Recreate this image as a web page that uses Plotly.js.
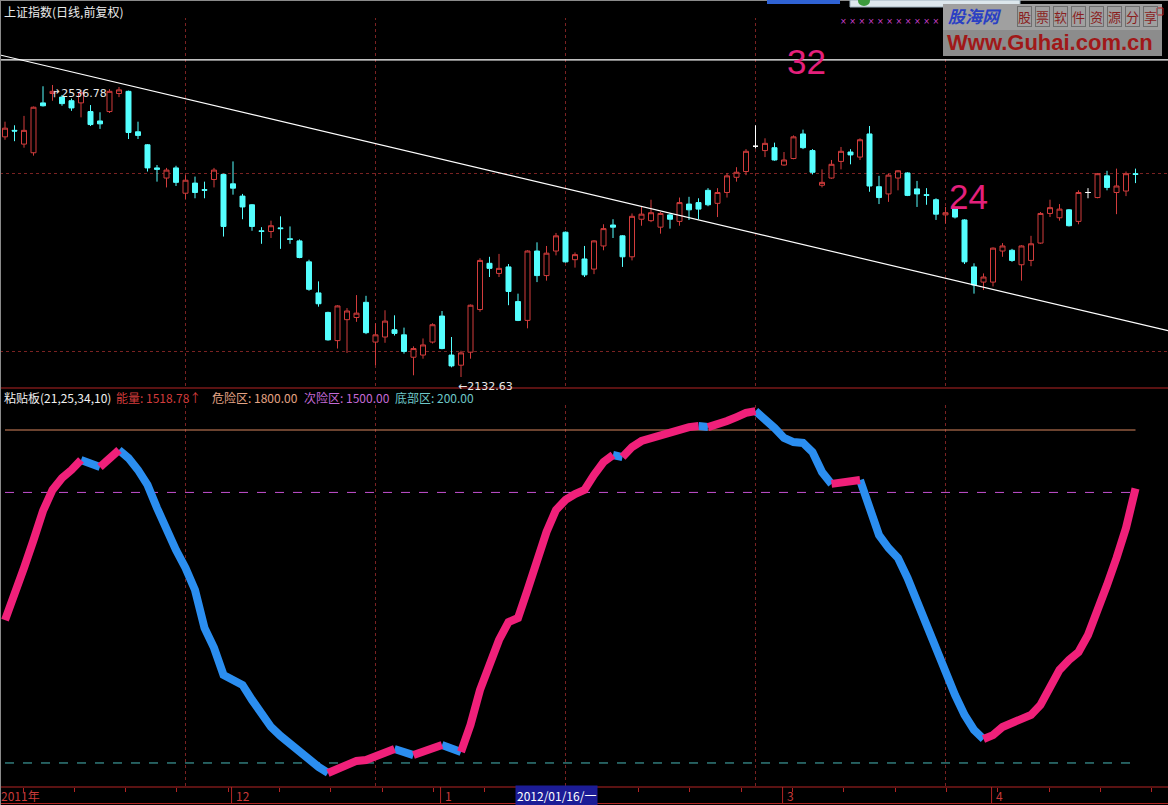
<!DOCTYPE html>
<html><head><meta charset="utf-8">
<script src="https://cdn.plot.ly/plotly-3.0.1.min.js"></script>
<style>html,body{margin:0;padding:0;background:#000;overflow:hidden}#chart{width:1168px;height:805px}</style>
</head><body><div id="chart"></div>
<script>
// ---------- data (Shanghai Composite, daily, forward adjusted) ----------
const openP  = [2465,2474,2455,2443,2512,2525,2520,2515,2512,2500,2487,2500,2525,2528,2472,2454,2422,2408,2422,2387,
                2401,2392,2406,2413,2400,2383,2371,2335,2334,2339,2324,2321,2292,2249,2222,2183,2212,2215,2236,2181,
                2188,2198,2191,2160,2163,2181,2217,2163,2149,2167,2226,2290,2276,2285,2237,2211,2307,2273,2307,2333,
                2295,2296,2282,2314,2343,2328,2299,2351,2349,2340,2357,2348,2372,2374,2391,2373,2388,2409,2417,2452,
                2446,2450,2426,2435,2469,2446,2398,2408,2431,2444,2437,2469,2396,2386,2408,2415,2393,2385,2378,2357,
                2367,2350,2285,2264,2264,2307,2308,2288,2294,2318,2359,2353,2364,2348,2388,2381,2411,2388,2390,2414];
const highP  = [2486,2481,2494,2507,2535,2536.78,2523,2518,2530,2509,2499,2531,2534,2529,2486,2455,2426,2422,2425,2412,
                2410,2403,2422,2414,2431,2386,2372,2340,2349,2355,2341,2323,2295,2265,2223,2232,2228,2246,2245,2207,
                2225,2218,2201,2175,2186,2207,2224,2188,2169,2233,2297,2299,2303,2289,2248,2308,2319,2314,2332,2334,
                2305,2314,2322,2344,2351,2329,2359,2369,2378,2361,2359,2381,2382,2380,2394,2394,2415,2423,2448,2481,
                2463,2457,2444,2467,2475,2448,2420,2433,2451,2448,2463,2480,2411,2414,2419,2416,2404,2394,2380,2368,
                2368,2351,2290,2276,2312,2318,2310,2315,2328,2361,2378,2372,2365,2391,2394,2415,2418,2421,2417,2421];
const lowP   = [2461,2459,2450,2439,2507,2515,2508,2501,2492,2480,2476,2498,2520,2462,2462,2417,2403,2395,2397,2379,
                2380,2380,2395,2327,2385,2351,2335,2317,2325,2310,2317,2297,2252,2230,2183,2172,2166,2209,2192,2149,
                2180,2190,2165,2135,2158,2179,2171,2146,2132.63,2158,2223,2271,2271,2232,2210,2200,2264,2266,2301,2291,
                2284,2271,2275,2308,2325,2285,2294,2342,2347,2331,2338,2342,2350,2351,2369,2354,2381,2403,2412,2449,
                2437,2432,2425,2434,2448,2413,2395,2407,2420,2427,2433,2389,2372,2375,2391,2383,2368,2371,2350,2345,
                2352,2289,2248,2253,2258,2299,2292,2266,2286,2317,2354,2349,2341,2344,2380,2380,2391,2358,2383,2401];
const closeP = [2477,2473,2474,2506,2508,2528,2511,2505,2526,2482,2483,2528,2530,2471,2467,2422,2420,2419,2402,2405,
                2388,2391,2419,2341,2394,2368,2341,2334,2342,2338,2323,2298,2254,2234,2184,2231,2224,2221,2194,2191,
                2210,2193,2168,2172,2177,2205,2172,2148,2166,2232,2294,2283,2283,2251,2211,2307,2273,2304,2328,2292,
                2302,2274,2321,2338,2340,2299,2355,2358,2360,2359,2351,2374,2364,2365,2371,2388,2411,2416,2445,2452,
                2456,2433,2433,2465,2450,2416,2402,2427,2445,2440,2461,2397,2381,2412,2418,2384,2386,2384,2358,2360,
                2354,2292,2260,2271,2311,2314,2294,2314,2317,2359,2367,2365,2342,2388,2388,2414,2395,2397,2414,2413];
// 粘贴板(21,25,34,10) energy line
const energy = [887,1002,1137,1271,1411,1512,1569,1608,1656,1637,1622,1661,1704,1665,1608,1536,1425,1320,1223,1137,
                1031,849,753,623,599,575,503,431,373,330,291,253,214,181,152,171,195,210,214,229,
                243,267,253,238,253,277,286,267,253,383,551,685,791,877,897,1031,1175,1310,1416,1464,
                1492,1512,1584,1646,1680,1670,1718,1747,1762,1776,1790,1805,1814,1819,1814,1824,1843,1862,1882,1891,
                1853,1810,1762,1742,1738,1694,1598,1541,1545,1550,1560,1440,1295,1233,1185,1089,974,863,743,637,
                527,431,359,315,334,373,392,407,431,479,560,647,695,733,815,925,1055,1185,1329,1518.78];
const dangerLevel = 1800, riskLevel = 1500, bottomLevel = 200;
const whiteCross = [79, 114];                 // doji bars drawn in white
const monthTickIdx  = [0, 24, 46, 82, 104];
const monthTickText = ['2011年', '12', '1', '3', '4'];
const cursorIdx = 54, cursorLabel = '2012/01/16/一';
const gridIdx = [19, 39, 59, 79, 99];
const priceGrid = [2168.6, 2413.6];
const trendX = [-0.53, 122.42], trendY = [2578.3, 2196.7];
const hLineX = [-0.53, 122.42], hLineY = [2571.4, 2571.4];
const waveLabels = [{text:'32', xpx:806, ypx:62}, {text:'24', xpx:968, ypx:196}];

// ---------- build ----------
const W = 1168, H = 805;
const PX = x => x / W, PY = y => 1 - y / H;
const N = closeP.length;
const idx = closeP.map((_, i) => i);
const pick = (arr, ids) => ids.map(i => arr[i]);
const mainI = idx.filter(i => !whiteCross.includes(i));
const CJK = 'Noto Sans CJK SC, Noto Sans, sans-serif';
const RED = '#d23c3c', CYAN = '#54ffff', GRID = '#7a2222', BAR = '#b42424';

const traces = [];
traces.push({type:'candlestick', x: mainI, open: pick(openP,mainI), high: pick(highP,mainI), low: pick(lowP,mainI), close: pick(closeP,mainI),
  increasing:{line:{color:RED,width:1}, fillcolor:'#000000'},
  decreasing:{line:{color:CYAN,width:1}, fillcolor:CYAN},
  xaxis:'x', yaxis:'y', hoverinfo:'skip', showlegend:false});
traces.push({type:'candlestick', x: whiteCross, open: pick(openP,whiteCross), high: pick(highP,whiteCross), low: pick(lowP,whiteCross), close: pick(closeP,whiteCross),
  increasing:{line:{color:'#ffffff',width:1}, fillcolor:'#ffffff'},
  decreasing:{line:{color:'#ffffff',width:1}, fillcolor:'#ffffff'},
  xaxis:'x', yaxis:'y', hoverinfo:'skip', showlegend:false});
traces.push({type:'scatter', mode:'lines', x: trendX, y: trendY, line:{color:'#ffffff', width:1.2}, xaxis:'x', yaxis:'y', hoverinfo:'skip', showlegend:false});
traces.push({type:'scatter', mode:'lines', x: hLineX, y: hLineY, line:{color:'#ffffff', width:1.2}, xaxis:'x', yaxis:'y', hoverinfo:'skip', showlegend:false});

// level lines
const first = idx[0], last = idx[N-1];
traces.push({type:'scatter', mode:'lines', x:[first,last], y:[dangerLevel,dangerLevel], line:{color:'#d8865e', width:1}, xaxis:'x', yaxis:'y2', hoverinfo:'skip', showlegend:false});
traces.push({type:'scatter', mode:'lines', x:[first,last], y:[riskLevel,riskLevel], line:{color:'#c450d0', width:1, dash:'dash'}, xaxis:'x', yaxis:'y2', hoverinfo:'skip', showlegend:false});
traces.push({type:'scatter', mode:'lines', x:[first,last], y:[bottomLevel,bottomLevel], line:{color:'#48b8b8', width:1, dash:'dash'}, xaxis:'x', yaxis:'y2', hoverinfo:'skip', showlegend:false});

// energy ribbon: pink when rising, blue when falling
const pink = {x:[], y:[]}, blue = {x:[], y:[]};
let cur = null;
for (let i = 0; i < N - 1; i++) {
  const c = energy[i+1] >= energy[i] ? 'p' : 'b';
  const t = c === 'p' ? pink : blue;
  if (c !== cur) {
    if (cur) { const o = cur === 'p' ? pink : blue; o.x.push(null); o.y.push(null); }
    t.x.push(i); t.y.push(energy[i]); cur = c;
  }
  t.x.push(i+1); t.y.push(energy[i+1]);
}
traces.push({type:'scatter', mode:'lines', x: blue.x, y: blue.y, line:{color:'#2b8ef0', width:8}, connectgaps:false, xaxis:'x', yaxis:'y2', hoverinfo:'skip', showlegend:false});
traces.push({type:'scatter', mode:'lines', x: pink.x, y: pink.y, line:{color:'#f0207a', width:8}, connectgaps:false, xaxis:'x', yaxis:'y2', hoverinfo:'skip', showlegend:false});

// ---------- shapes ----------
const shapes = [];
const hline = (y, color, w) => shapes.push({type:'line', xref:'paper', yref:'paper', x0:0, x1:1, y0:PY(y), y1:PY(y), line:{color, width:w||1}});
hline(388, BAR); hline(787, BAR); hline(803.5, BAR);
shapes.push({type:'line', xref:'paper', yref:'paper', x0:PX(0.5), x1:PX(0.5), y0:0, y1:1, line:{color:'#8a8a8a', width:1}});
hline(0.5, '#8a8a8a');
gridIdx.forEach(g => {
  shapes.push({type:'line', layer:'below', xref:'x', yref:'paper', x0:g, x1:g, y0:PY(386), y1:PY(18), line:{color:GRID, width:1, dash:'dot'}});
  shapes.push({type:'line', layer:'below', xref:'x', yref:'paper', x0:g, x1:g, y0:PY(786), y1:PY(405), line:{color:GRID, width:1, dash:'dot'}});
});
monthTickIdx.slice(1).forEach(m => {
  shapes.push({type:'line', xref:'x', yref:'paper', x0:m-0.15, x1:m-0.15, y0:PY(803), y1:PY(787), line:{color:BAR, width:1}});
});
// overlay elements in the top-right corner (window / watermark)
shapes.push({type:'rect', xref:'paper', yref:'paper', x0:PX(767), x1:PX(840), y0:PY(4), y1:PY(0), fillcolor:'#2f62d4', line:{width:0}});
shapes.push({type:'rect', xref:'paper', yref:'paper', x0:PX(850), x1:PX(1020), y0:PY(7), y1:PY(0), fillcolor:'#dde7ec', line:{color:'#9fb2bd', width:1}});
shapes.push({type:'circle', xref:'paper', yref:'paper', x0:PX(858), x1:PX(870), y0:PY(6), y1:PY(-4), fillcolor:'#3c9a3c', line:{width:0}});
shapes.push({type:'rect', xref:'paper', yref:'paper', x0:PX(943), x1:PX(1162), y0:PY(30), y1:PY(4), fillcolor:'#a0a0a0', line:{width:0}});
shapes.push({type:'rect', xref:'paper', yref:'paper', x0:PX(943), x1:PX(1162), y0:PY(56), y1:PY(30), fillcolor:'#8c8c8c', line:{width:0}});
shapes.push({type:'rect', xref:'paper', yref:'paper', x0:PX(1157), x1:PX(1163), y0:PY(15), y1:PY(8), fillcolor:'rgba(0,0,0,0)', line:{color:'#c02020', width:1}});

// ---------- annotations ----------
const ann = [];
const A = (xpx, ypx, text, size, color, extra) => ann.push(Object.assign({xref:'paper', yref:'paper', x:PX(xpx), y:PY(ypx), text, showarrow:false, xanchor:'left', yanchor:'middle', font:{family:CJK, size, color}}, extra||{}));
A(2, 12, '上证指数(日线,前复权)', 12, '#ececec');
const lastE = energy[N-1];
A(2, 397, '粘贴板(21,25,34,10)', 12, '#f0f0f0');
A(114, 397, '能量: ' + lastE.toFixed(2) + '↑', 12, RED);
A(210, 397, '危险区: ' + dangerLevel.toFixed(2), 12, '#e4a484');
A(302, 397, '次险区: ' + riskLevel.toFixed(2), 12, '#c46ad6');
A(393, 397, '底部区: ' + bottomLevel.toFixed(2), 12, '#6ec8c8');
// high / low marks
const maxH = Math.max(...highP), minL = Math.min(...lowP);
const iMax = highP.indexOf(maxH), iMin = lowP.indexOf(minL);
ann.push({xref:'x', yref:'y', x:iMax, y:maxH, text:'↱' + maxH.toFixed(2), showarrow:false, xanchor:'left', yanchor:'top', xshift:-3, yshift:0, font:{family:'DejaVu Sans, sans-serif', size:11, color:'#e8e8e8'}});
ann.push({xref:'x', yref:'y', x:iMin, y:minL, text:'←' + minL.toFixed(2), showarrow:false, xanchor:'left', yanchor:'top', xshift:-5, yshift:-1, font:{family:'DejaVu Sans, sans-serif', size:11, color:'#e8e8e8'}});
waveLabels.forEach(w => A(w.xpx, w.ypx, w.text, 35, '#e4207c', {xanchor:'center', font:{family:'Liberation Sans, Arial, sans-serif', size:35, color:'#e4207c'}}));
// bottom date axis labels
monthTickIdx.forEach((m, k) => ann.push({xref:'x', yref:'paper', x:m, y:PY(795.5), text:monthTickText[k], showarrow:false, xanchor:'left', yanchor:'middle', xshift: k === 0 ? -6 : 1, font:{family:CJK, size:12, color:'#c83a3a'}}));
ann.push({xref:'x', yref:'paper', x:cursorIdx, y:PY(795.5), text:cursorLabel, showarrow:false, xanchor:'left', yanchor:'middle', xshift:-3, bgcolor:'#1c1c96', borderpad:1, font:{family:CJK, size:12, color:'#ffffff'}});
// watermark + decorations
A(838, 22, '× × × × × × × × × × ×', 8, '#d040d0', {font:{family:'DejaVu Sans, sans-serif', size:8, color:'#d040d0'}});
A(946, 16, '<b><i>股海网</i></b>', 17, '#2a40c4');
'股票软件资源分享'.split('').forEach((ch, k) => A(1017 + k * 18, 17, ch, 13, '#8a1e1e', {bordercolor:'#6e6e6e', borderwidth:1, borderpad:0}));
A(945, 43, '<b>Www.Guhai.com.cn</b>', 22, '#a01818', {font:{family:'Liberation Sans, Arial, sans-serif', size:22, color:'#a01818'}});

// ---------- layout ----------
const layout = {
  width: W, height: H, margin:{l:0, r:0, t:0, b:0},
  paper_bgcolor:'#000000', plot_bgcolor:'#000000',
  showlegend:false, hovermode:false,
  xaxis:{domain:[0,1], anchor:'y2', range:[-0.526, 122.42], showgrid:false, zeroline:false, showline:false,
         showticklabels:false, ticks:'outside', tickmode:'linear', tick0:7.3, dtick:5.4, ticklen:4, tickcolor:BAR,
         rangeslider:{visible:false}, fixedrange:true},
  yaxis:{domain:[PY(387), 1], anchor:'x', range:[2118.8, 2654.4], showticklabels:false, zeroline:false, showline:false,
         tickmode:'array', tickvals: priceGrid, showgrid:true, gridcolor:GRID, griddash:'dot', gridwidth:1, ticks:'', fixedrange:true},
  yaxis2:{domain:[PY(787), PY(388)], anchor:'x', range:[84.6, 2001.8], showticklabels:false, zeroline:false, showline:false,
          showgrid:false, ticks:'', fixedrange:true},
  shapes, annotations: ann,
  boxgap: 0.25
};
Plotly.newPlot('chart', traces, layout, {staticPlot:true, displayModeBar:false});
</script>
</body></html>
